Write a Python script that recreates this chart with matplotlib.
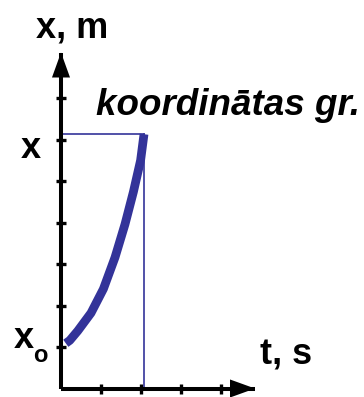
import matplotlib
matplotlib.use("Agg")
import matplotlib.pyplot as plt

plt.rcParams["font.family"] = ["Liberation Sans", "DejaVu Sans"]

# coordinate vs time curve (t in time ticks, x in coordinate ticks)
t_pts = [0.12, 0.22, 0.42, 0.75, 1.06, 1.35, 1.60, 1.81, 1.99, 2.075]
x_pts = [1.09, 1.16, 1.39, 1.82, 2.40, 3.16, 3.96, 4.74, 5.50, 6.13]
t_ticks = [1, 2, 3, 4]
x_ticks = [1, 2, 3, 4, 5, 6, 7]

blue = "#333399"
W, H = 364, 397

fig = plt.figure(figsize=(W / 100, H / 100), dpi=100)
ax = fig.add_axes([61 / W, 8.5 / H, 194 / W, 336 / H])
ax.set_xlim(0, 4.85)
ax.set_ylim(0, 8.1)
ax.patch.set_alpha(0)

for side in ["top", "right"]:
    ax.spines[side].set_visible(False)
for side in ["left", "bottom"]:
    ax.spines[side].set_linewidth(2.9)
    ax.spines[side].set_capstyle("butt")

ax.set_xticks(t_ticks)
ax.set_yticks(x_ticks)
ax.tick_params(direction="inout", length=7.5, width=2.4, labelbottom=False, labelleft=False)

# axis arrows
arrow = dict(arrowstyle="-|>,head_length=18,head_width=6.5", mutation_scale=1,
             color="black", lw=0, shrinkA=0, shrinkB=0)
ax.annotate("", xy=(0, 8.1), xytext=(0, 7.4), arrowprops=arrow, annotation_clip=False)
ax.annotate("", xy=(4.85, 0), xytext=(4.2, 0), arrowprops=arrow, annotation_clip=False)

# projection lines to the axes
t_end, x_end = t_pts[-1], x_pts[-1]
ax.plot([0, t_end], [x_end, x_end], color=blue, lw=1.2, clip_on=False)
ax.plot([t_end, t_end], [0, x_end], color=blue, lw=1.2, clip_on=False)

ax.plot(t_pts, x_pts, color=blue, lw=6.3, solid_capstyle="butt",
        solid_joinstyle="round", clip_on=False)

bold = dict(fontweight="bold", color="black", clip_on=False)
ax.text(0.275, 8.47, "x, m", fontsize=26, ha="center", va="baseline", **bold)
ax.text(0.88, 6.59, "koordinātas gr.", fontsize=26.5, style="italic", ha="left",
        va="baseline", **bold)
ax.text(-0.5, 5.55, "x", fontsize=26, ha="right", va="baseline", **bold)
ax.text(-0.69, 0.975, "x", fontsize=26, ha="right", va="baseline", **bold)
ax.text(-0.70, 0.64, "o", fontsize=17, ha="left", va="baseline", **bold)
ax.text(4.975, 0.57, "t, s", fontsize=26, ha="left", va="baseline", **bold)

fig.savefig("out.png", dpi=100)
